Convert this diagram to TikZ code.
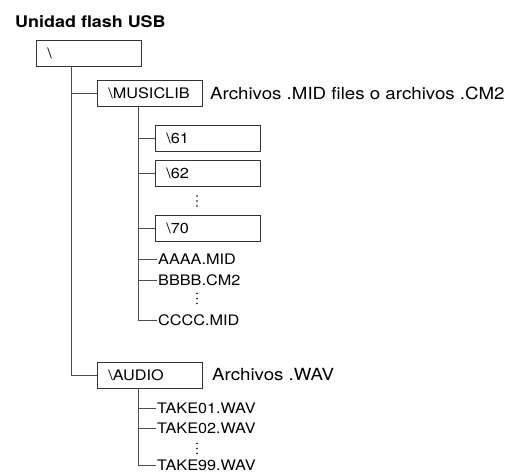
\documentclass[tikz,border=0pt]{standalone}
\usepackage{fontspec}
\setmainfont{TeX Gyre Heros}[FakeStretch=1.12]
\usepackage{tikz}
\usetikzlibrary{positioning}

\begin{document}
\begin{tikzpicture}[
  x=1pt, y=-1pt,
  font=\fontsize{14.5}{16}\selectfont,
  box/.style={draw=black!80, line width=0.8pt, text width=83pt, inner xsep=11pt, inner ysep=0pt,
    minimum height=26pt, align=left, anchor=west},
  file/.style={anchor=west, inner sep=1pt},
  note/.style={anchor=west, inner sep=0pt, font=\fontsize{16.7}{18}\selectfont},
  branch/.style={draw=black!70, line width=0.8pt},
]
\useasboundingbox (0,0) rectangle (515,475);

\node[anchor=base west, inner sep=0pt, font=\fontsize{16}{18}\selectfont\bfseries] (title) at (15,27) {Unidad flash USB};

% folders
\node[box] (root) at (36,53) {\textbackslash};
\node[box] (musiclib) at (97,93.5) {\textbackslash MUSICLIB};
\node[box] (d61) at (155,138) {\textbackslash 61};
\node[box] (d62) at (155,173) {\textbackslash 62};
\coordinate (dots1) at (197,201);
\node[box] (d70) at (155,228.5) {\textbackslash 70};
\node[box] (audio) at (97,375) {\textbackslash AUDIO};

% files
\node[file] (aaaa) at (157,259) {AAAA.MID};
\node[file] (bbbb) at (157,280) {BBBB.CM2};
\coordinate (dots2) at (197,298.5);
\node[file] (cccc) at (157,320) {CCCC.MID};
\node[file] (take01) at (156,408) {TAKE01.WAV};
\node[file] (take02) at (156,428) {TAKE02.WAV};
\coordinate (dots3) at (197,448.5);
\node[file] (take99) at (156,465) {TAKE99.WAV};

% notes
\node[note] (midnote) at (210,93.5) {Archivos .MID files o archivos .CM2};
\node[note] (wavnote) at (212,375) {Archivos .WAV};

% vertical dots
\foreach \c in {dots1,dots2,dots3}
  \foreach \d in {-5,0,5}
    \fill ([yshift=\d pt]\c) circle (0.9pt);

% tree lines
\foreach \n in {musiclib,audio}
  \path[branch] ([xshift=35pt]root.south west) |- (\n.west);
\foreach \n in {d61,d62,d70,aaaa,bbbb,cccc}
  \path[branch] ([xshift=41pt]musiclib.south west) |- (\n.west);
\foreach \n in {take01,take02,take99}
  \path[branch] ([xshift=41pt]audio.south west) |- (\n.west);
\end{tikzpicture}
\end{document}
